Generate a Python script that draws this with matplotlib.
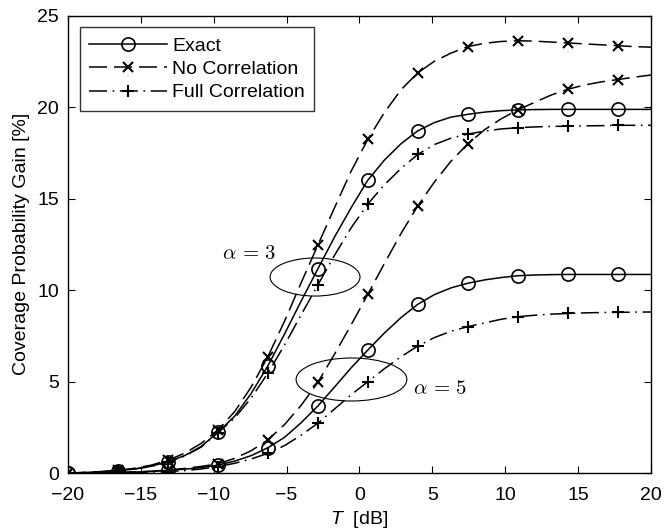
import matplotlib
matplotlib.use('Agg')
import matplotlib.pyplot as plt
from matplotlib.patches import Ellipse

plt.rcParams['font.family'] = ['Liberation Sans', 'DejaVu Sans']
plt.rcParams['mathtext.fontset'] = 'custom'
plt.rcParams['mathtext.it'] = 'Liberation Sans:italic'
plt.rcParams['mathtext.rm'] = 'Liberation Sans'
plt.rcParams['lines.scale_dashes'] = False

# T grid in dB (36 points, a marker on every third)
T = [-20.00, -18.86, -17.71, -16.57, -15.43, -14.29, -13.14, -12.00, -10.86, -9.71,
     -8.57, -7.43, -6.29, -5.14, -4.00, -2.86, -1.71, -0.57, 0.57, 1.71,
     2.86, 4.00, 5.14, 6.29, 7.43, 8.57, 9.71, 10.86, 12.00, 13.14,
     14.29, 15.43, 16.57, 17.71, 18.86, 20.00]

# alpha = 3
exact_a3 = [0, 0.03, 0.07, 0.13, 0.22, 0.37, 0.62, 0.95, 1.45, 2.23,
            3.1, 4.35, 5.85, 7.6, 9.4, 11.15, 12.9, 14.5, 16.0, 17.1,
            18.0, 18.7, 19.15, 19.45, 19.6, 19.72, 19.8, 19.84, 19.86, 19.87,
            19.87, 19.87, 19.87, 19.87, 19.87, 19.87]
nocorr_a3 = [0, 0.03, 0.08, 0.15, 0.26, 0.43, 0.7, 1.08, 1.62, 2.35,
             3.35, 4.7, 6.35, 8.3, 10.4, 12.45, 14.5, 16.5, 18.23, 19.7,
             20.95, 21.87, 22.5, 22.95, 23.3, 23.48, 23.58, 23.62, 23.6, 23.55,
             23.5, 23.45, 23.4, 23.35, 23.3, 23.27]
fullcorr_a3 = [0, 0.02, 0.06, 0.12, 0.22, 0.36, 0.6, 0.92, 1.42, 2.2,
               3.0, 4.1, 5.45, 7.0, 8.65, 10.27, 11.9, 13.4, 14.7, 15.75,
               16.65, 17.41, 17.95, 18.3, 18.52, 18.68, 18.8, 18.87, 18.91, 18.94,
               18.95, 18.97, 18.98, 19.0, 19.0, 19.0]

# alpha = 5
exact_a5 = [0, 0.01, 0.02, 0.03, 0.05, 0.08, 0.15, 0.21, 0.3, 0.43,
            0.65, 0.95, 1.38, 1.95, 2.75, 3.66, 4.7, 5.75, 6.72, 7.65,
            8.5, 9.22, 9.75, 10.12, 10.37, 10.55, 10.68, 10.78, 10.82, 10.84,
            10.85, 10.85, 10.85, 10.85, 10.85, 10.85]
nocorr_a5 = [0, 0.01, 0.02, 0.03, 0.06, 0.1, 0.16, 0.25, 0.36, 0.5,
             0.8, 1.22, 1.8, 2.65, 3.7, 4.95, 6.5, 8.1, 9.76, 11.45,
             13.1, 14.6, 15.9, 17.05, 17.98, 18.75, 19.35, 19.84, 20.25, 20.65,
             20.97, 21.2, 21.37, 21.5, 21.63, 21.75]
fullcorr_a5 = [0, 0.005, 0.01, 0.02, 0.03, 0.05, 0.08, 0.13, 0.22, 0.35,
               0.53, 0.77, 1.07, 1.5, 2.07, 2.72, 3.5, 4.28, 4.99, 5.7,
               6.36, 6.94, 7.4, 7.75, 8.0, 8.2, 8.4, 8.54, 8.62, 8.68,
               8.72, 8.75, 8.77, 8.78, 8.79, 8.8]

labels = ['Exact', 'No Correlation', 'Full Correlation']

fig = plt.figure(figsize=(6.64, 5.31), dpi=100)
ax = fig.add_axes([0.1024, 0.1092, 0.8780, 0.8616])

lw = 1.1
dash = (13, 5)
dashdot = (13, 4, 1.2, 4)

def draw(y, style, label=None):
    if style == 'exact':
        l, = ax.plot(T, y, color='k', lw=lw, marker='o', ms=9.5, mfc='none', mew=1.2,
                     markevery=3, label=label)
    elif style == 'nocorr':
        l, = ax.plot(T, y, color='k', lw=lw, marker='x', ms=6.5, mew=1.5,
                     markevery=3, label=label)
        l.set_dashes(dash)
    else:
        l, = ax.plot(T, y, color='k', lw=lw, marker='+', ms=9, mew=1.5,
                     markevery=3, label=label)
        l.set_dashes(dashdot)
    return l

draw(exact_a3, 'exact', labels[0])
draw(nocorr_a3, 'nocorr', labels[1])
draw(fullcorr_a3, 'fullcorr', labels[2])
draw(exact_a5, 'exact')
draw(nocorr_a5, 'nocorr')
draw(fullcorr_a5, 'fullcorr')

ax.add_patch(Ellipse((-3.05, 10.71), 6.17, 2.08, fill=False, lw=0.8, color='k'))
ax.add_patch(Ellipse((-0.55, 5.11), 7.6, 2.35, fill=False, lw=0.8, color='k'))
ax.text(-9.45, 12.0, r'$\alpha\,=\,3$', fontsize=15, va='center', ha='left', math_fontfamily='cm')
ax.text(3.7, 4.64, r'$\alpha\,=\,5$', fontsize=15, va='center', ha='left', math_fontfamily='cm')

ax.set_xlim(-20, 20)
ax.set_ylim(0, 25)
ax.set_xticks(range(-20, 21, 5))
ax.set_yticks(range(0, 26, 5))
ax.tick_params(direction='in', top=True, right=True, length=5, labelsize=14, width=0.8)
ax.tick_params(axis='x', pad=10)
ax.tick_params(axis='y', pad=6.5)
for s in ax.spines.values():
    s.set_linewidth(1.0)

ax.set_xlabel(r'$T$  [dB]', fontsize=14, labelpad=4)
ax.set_ylabel('Coverage Probability Gain [%]', fontsize=14, labelpad=5)

leg = ax.legend(loc='upper left', fontsize=14, handlelength=4.0, frameon=True,
                fancybox=False, edgecolor='k', borderaxespad=0.6,
                borderpad=0.5, labelspacing=0.3, handletextpad=0.25)
leg.get_frame().set_linewidth(1.0)

fig.savefig('out.png', dpi=100)
